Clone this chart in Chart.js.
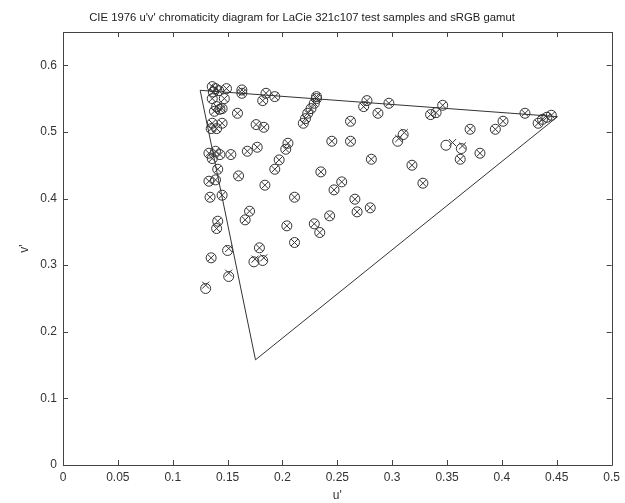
<!DOCTYPE html>
<html>
<head>
<meta charset="utf-8">
<script src="https://cdn.jsdelivr.net/npm/chart.js@4"></script>
<style>
html, body { margin: 0; padding: 0; background: #fff; }
</style>
</head>
<body>
<canvas id="chart" width="625" height="503"></canvas>
<script>
// === DATA ===
const chartTitle = "CIE 1976 u'v' chromaticity diagram for LaCie 321c107 test samples and sRGB gamut";
const xTicks = [0, 0.05, 0.1, 0.15, 0.2, 0.25, 0.3, 0.35, 0.4, 0.45, 0.5];
const yTicks = [0, 0.1, 0.2, 0.3, 0.4, 0.5, 0.6];

// measured samples (circles)
const sampleU = [0.136,0.139,0.142,0.137,0.149,0.136,0.147,0.140,0.145,0.138,0.143,0.159,0.136,0.145,0.140,0.135,
  0.133,0.139,0.143,0.136,0.153,0.141,0.133,0.139,0.160,0.134,0.145,0.141,0.140,0.150,0.135,0.151,0.130,
  0.163,0.163,0.185,0.182,0.193,0.231,0.229,0.226,0.223,0.221,0.219,0.231,0.176,0.183,0.262,0.205,0.203,
  0.197,0.193,0.177,0.168,0.245,0.262,0.184,0.235,0.254,0.247,0.211,0.277,0.274,0.297,0.287,0.346,0.340,
  0.335,0.310,0.305,0.349,0.363,0.362,0.371,0.281,0.318,0.328,0.266,0.170,0.166,0.204,0.229,0.234,0.243,
  0.268,0.179,0.211,0.174,0.182,0.394,0.401,0.421,0.433,0.437,0.441,0.445,0.380,0.280];
const sampleV = [0.568,0.565,0.562,0.560,0.565,0.550,0.550,0.538,0.535,0.531,0.534,0.528,0.513,0.513,0.505,0.505,
  0.468,0.471,0.466,0.460,0.466,0.444,0.426,0.428,0.434,0.402,0.405,0.366,0.355,0.322,0.311,0.283,0.265,
  0.563,0.558,0.558,0.547,0.553,0.550,0.543,0.535,0.528,0.520,0.513,0.553,0.511,0.507,0.516,0.483,0.474,
  0.458,0.444,0.477,0.471,0.486,0.486,0.420,0.440,0.425,0.413,0.402,0.547,0.538,0.543,0.528,0.540,0.529,
  0.526,0.496,0.486,0.480,0.475,0.459,0.504,0.459,0.450,0.423,0.399,0.381,0.368,0.359,0.362,0.349,0.374,
  0.380,0.326,0.334,0.305,0.307,0.504,0.516,0.528,0.513,0.519,0.522,0.525,0.468,0.386];

// target values (crosses)
const targetU = [0.136,0.139,0.142,0.137,0.149,0.136,0.147,0.140,0.145,0.138,0.143,0.159,0.136,0.145,0.140,0.135,
  0.133,0.139,0.143,0.136,0.153,0.141,0.133,0.139,0.160,0.134,0.145,0.141,0.140,0.151,0.135,0.151,0.130,
  0.163,0.163,0.185,0.182,0.193,0.231,0.229,0.226,0.223,0.221,0.219,0.231,0.176,0.183,0.262,0.205,0.203,
  0.197,0.193,0.177,0.168,0.245,0.262,0.184,0.235,0.254,0.247,0.211,0.277,0.274,0.297,0.287,0.346,0.340,
  0.335,0.311,0.306,0.355,0.364,0.362,0.371,0.281,0.318,0.328,0.266,0.170,0.166,0.204,0.229,0.234,0.243,
  0.268,0.179,0.211,0.175,0.183,0.394,0.401,0.421,0.433,0.437,0.441,0.445,0.380,0.280];
const targetV = [0.568,0.565,0.562,0.560,0.565,0.550,0.550,0.538,0.535,0.531,0.534,0.528,0.513,0.513,0.505,0.505,
  0.468,0.471,0.466,0.460,0.466,0.444,0.426,0.428,0.434,0.402,0.405,0.366,0.355,0.325,0.311,0.288,0.270,
  0.563,0.558,0.558,0.547,0.553,0.550,0.543,0.535,0.528,0.520,0.513,0.553,0.511,0.507,0.516,0.483,0.474,
  0.458,0.444,0.477,0.471,0.486,0.486,0.420,0.440,0.425,0.413,0.402,0.547,0.538,0.543,0.528,0.540,0.529,
  0.526,0.499,0.490,0.484,0.479,0.459,0.504,0.459,0.450,0.423,0.399,0.381,0.368,0.359,0.362,0.349,0.374,
  0.380,0.326,0.334,0.309,0.311,0.504,0.516,0.528,0.513,0.519,0.522,0.525,0.468,0.386];

// sRGB gamut triangle (R, G, B, back to R)
const gamutU = [0.4507, 0.1250, 0.1754, 0.4507];
const gamutV = [0.5229, 0.5625, 0.1579, 0.5229];

const toPoints = (us, vs) => us.map((u, i) => ({x: u, y: vs[i]}));

const INK = '#333';
const FONT = '"Liberation Sans", Arial, sans-serif';

// === FRAME, INWARD TICKS AND TITLE ===
const framePlugin = {
  id: 'frame',
  afterDraw(chart) {
    const {ctx, chartArea: a, scales: {x, y}} = chart;
    ctx.save();
    ctx.strokeStyle = '#444';
    ctx.lineWidth = 1;
    ctx.beginPath();
    ctx.rect(Math.round(a.left) + 0.5, Math.round(a.top) + 0.5,
      Math.round(a.right) - Math.round(a.left), Math.round(a.bottom) - Math.round(a.top));
    xTicks.forEach(t => {
      const px = Math.round(x.getPixelForValue(t)) + 0.5;
      ctx.moveTo(px, a.bottom); ctx.lineTo(px, a.bottom - 5);
      ctx.moveTo(px, a.top); ctx.lineTo(px, a.top + 5);
    });
    yTicks.forEach(t => {
      const py = Math.round(y.getPixelForValue(t)) + 0.5;
      ctx.moveTo(a.left, py); ctx.lineTo(a.left + 5, py);
      ctx.moveTo(a.right, py); ctx.lineTo(a.right - 5, py);
    });
    ctx.stroke();

    ctx.fillStyle = '#222';
    ctx.font = '11.3px ' + FONT;
    ctx.textAlign = 'center';
    ctx.textBaseline = 'middle';
    ctx.fillText(chartTitle, 302, 18);
    ctx.restore();
  }
};

// === CHART ===
new Chart(document.getElementById('chart'), {
  type: 'scatter',
  data: {
    datasets: [
      {
        type: 'line', label: 'sRGB gamut', data: toPoints(gamutU, gamutV),
        borderColor: INK, borderWidth: 1, pointRadius: 0, fill: false, tension: 0
      },
      {
        label: 'samples', data: toPoints(sampleU, sampleV),
        pointStyle: 'circle', pointRadius: 5, borderColor: INK, borderWidth: 1,
        backgroundColor: 'rgba(0,0,0,0)'
      },
      {
        label: 'targets', data: toPoints(targetU, targetV),
        pointStyle: 'crossRot', pointRadius: 5, borderColor: INK, borderWidth: 1
      }
    ]
  },
  options: {
    responsive: false,
    animation: false,
    layout: {padding: {top: 32, right: 11, left: 0, bottom: 0}},
    plugins: {legend: {display: false}, tooltip: {enabled: false}},
    scales: {
      x: {
        type: 'linear', min: 0, max: 0.5,
        grid: {display: false, drawTicks: false}, border: {display: false},
        afterBuildTicks: s => { s.ticks = xTicks.map(v => ({value: v})); },
        afterFit: s => { s.height = 38; },
        ticks: {color: INK, font: {family: FONT, size: 12}, padding: 5, maxRotation: 0,
          callback: v => String(v)},
        title: {display: true, text: "u'", color: INK, font: {family: FONT, size: 12}, padding: {top: 0, bottom: 0}}
      },
      y: {
        type: 'linear', min: 0, max: 0.65,
        grid: {display: false, drawTicks: false}, border: {display: false},
        afterBuildTicks: s => { s.ticks = yTicks.map(v => ({value: v})); },
        afterFit: s => { s.width = 63; },
        ticks: {color: INK, font: {family: FONT, size: 12}, padding: 6,
          callback: v => String(v)},
        title: {display: true, text: "v'", color: INK, font: {family: FONT, size: 12}, padding: {top: 17, bottom: 0}}
      }
    }
  },
  plugins: [framePlugin]
});
</script>
</body>
</html>
